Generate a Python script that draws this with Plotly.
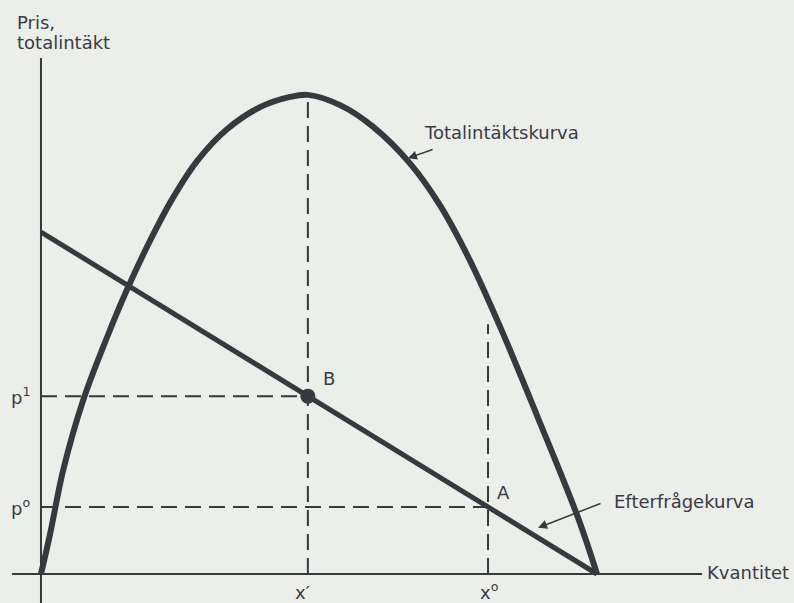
import plotly.graph_objects as go

# Quantity / price units: demand meets the price axis at 10 and the quantity axis at 10
demand_x = [0.0, 10.0]
demand_p = [10.0, 0.0]

# Total revenue curve (hand-drawn shape, sampled along the curve)
tr_x = [0.0, 0.16, 0.40, 0.76, 1.19, 1.56, 1.96, 2.37, 2.81, 3.35, 3.94, 4.48, 4.80,
        5.38, 5.97, 6.64, 7.18, 7.72, 8.26, 8.94, 9.66, 10.0]
tr_y = [0.0, 1.14, 3.04, 5.09, 6.93, 8.36, 9.74, 10.99, 12.08, 13.01, 13.65, 13.95, 14.01,
        13.71, 13.08, 12.00, 10.77, 9.15, 7.22, 4.56, 1.64, 0.0]

# Marked quantities and prices
x_prime = 4.80      # x'
p_one = 5.20        # p1 (point B)
x_zero = 8.04       # x0
p_zero = 1.96       # p0 (point A)
tr_peak = 14.01
x0_guide_top = 7.3

INK = "#38383f"
TXT = "#3a3a46"
BG = "#eceee9"
FONT = "DejaVu Sans, Verdana, sans-serif"
DASH = "16px,8px"

fig = go.Figure()

# Axes
fig.add_trace(go.Scatter(x=[0, 0], y=[-0.9, 15.09], mode="lines",
                         line=dict(color=INK, width=2), hoverinfo="skip"))
fig.add_trace(go.Scatter(x=[-0.52, 11.89], y=[0, 0], mode="lines",
                         line=dict(color=INK, width=2), hoverinfo="skip"))

# Dashed guide lines
guides = [
    ([0, x_prime], [p_one, p_one]),
    ([x_prime, x_prime], [0, tr_peak]),
    ([0, x_zero], [p_zero, p_zero]),
    ([x_zero, x_zero], [0, x0_guide_top]),
]
for gx, gy in guides:
    fig.add_trace(go.Scatter(x=gx, y=gy, mode="lines",
                             line=dict(color=INK, width=2, dash=DASH), hoverinfo="skip"))

# Demand curve
fig.add_trace(go.Scatter(x=demand_x, y=demand_p, mode="lines",
                         line=dict(color=INK, width=5), hoverinfo="skip"))

# Total revenue curve
fig.add_trace(go.Scatter(x=tr_x, y=tr_y, mode="lines", line_shape="spline",
                         line=dict(color=INK, width=6, smoothing=1.0), hoverinfo="skip"))

# Point B
fig.add_trace(go.Scatter(x=[x_prime], y=[p_one], mode="markers",
                         marker=dict(color=INK, size=15), hoverinfo="skip"))

def label(text, x, y, xanchor="left", yanchor="middle", size=18):
    fig.add_annotation(x=x, y=y, text=text, showarrow=False, xanchor=xanchor,
                       yanchor=yanchor, font=dict(family=FONT, size=size, color=TXT))

label("Pris,", -0.468, 16.14)
label("totalintäkt", -0.468, 15.53)
label("p<sup>1</sup>", -0.16, p_one, xanchor="right")
label("p<sup>o</sup>", -0.16, p_zero, xanchor="right")
label("x′", x_prime - 0.09, -0.53, xanchor="center")
label("x<sup>o</sup>", x_zero + 0.03, -0.50, xanchor="center")
label("B", 5.18, 5.73, xanchor="center")
label("A", 8.31, 2.37, xanchor="center")
label("Totalintäktskurva", 6.85, 12.92)
label("Efterfrågekurva", 10.27, 2.11)
label("Kvantitet", 11.94, 0.03)

# Pointer arrows
for (hx, hy, tx, ty) in [(6.60, 12.16, 7.07, 12.43), (8.94, 1.35, 10.09, 2.08)]:
    fig.add_annotation(x=hx, y=hy, ax=tx, ay=ty, xref="x", yref="y", axref="x", ayref="y",
                       text="", showarrow=True, arrowhead=2, arrowsize=1.2,
                       arrowwidth=1.5, arrowcolor=INK, standoff=0)

fig.update_layout(
    width=794, height=603,
    margin=dict(l=0, r=0, t=0, b=0),
    paper_bgcolor=BG, plot_bgcolor=BG,
    showlegend=False,
    xaxis=dict(range=[-0.737, 13.543], visible=False, fixedrange=True),
    yaxis=dict(range=[-0.848, 16.784], visible=False, fixedrange=True),
)

fig.write_html("out.html")
